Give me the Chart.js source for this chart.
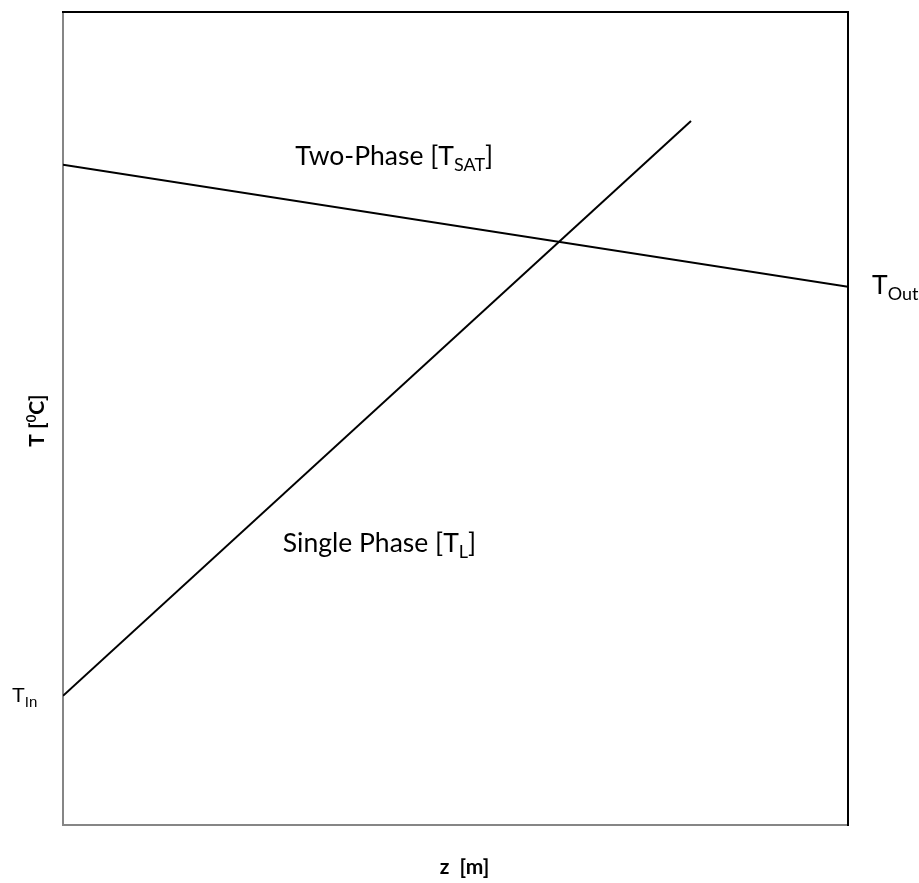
<!DOCTYPE html>
<html>
<head>
<meta charset="utf-8">
<script src="https://cdn.jsdelivr.net/npm/chart.js@4/dist/chart.umd.min.js"></script>
<style>
  html, body { margin: 0; padding: 0; background: #ffffff; }
  #wrap { width: 919px; height: 883px; position: relative; }
</style>
</head>
<body>
<div id="wrap"><canvas id="chart"></canvas></div>
<script>
// Axial position z and temperature T for the two regimes
const zTwoPhase = [0, 10];
const tTwoPhase = [81.2, 66.2];
const zSinglePhase = [0, 8.0];
const tSinglePhase = [15.9, 86.6];

// Axis ranges
const zRange = [0, 10];
const tRange = [0, 100];

// Text labels
const curveLabels = {
  twoPhase: { main: 'Two-Phase [T', sub: 'SAT', tail: ']' },
  singlePhase: { main: 'Single Phase [T', sub: 'L', tail: ']' },
  inlet: { main: 'T', sub: 'In', tail: '' },
  outlet: { main: 'T', sub: 'Out', tail: '' }
};
const axisTitles = { z: 'z  [m]', t: ['T [', '0', 'C]'] };

const toPoints = (xs, ys) => xs.map((x, i) => ({ x: x, y: ys[i] }));

// Text with a subscript segment: main + sub (lowered, smaller) + tail
function drawSubText(ctx, x, y, parts, font, subFont, subDy) {
  ctx.font = font;
  ctx.fillText(parts.main, x, y);
  let cx = x + ctx.measureText(parts.main).width;
  ctx.font = subFont;
  ctx.fillText(parts.sub, cx, y + subDy);
  cx += ctx.measureText(parts.sub).width;
  if (parts.tail) {
    ctx.font = font;
    ctx.fillText(parts.tail, cx, y);
  }
}

const labelPlugin = {
  id: 'profileLabels',
  afterDraw(chart) {
    const { ctx, chartArea: a, scales } = chart;
    const sx = scales.x, sy = scales.y;
    ctx.save();
    ctx.fillStyle = '#000000';
    ctx.textAlign = 'left';
    ctx.textBaseline = 'alphabetic';

    const bodyFont = '26.5px Lato, "Open Sans", sans-serif';
    const subFont = '18px Lato, "Open Sans", sans-serif';

    // Curve captions
    drawSubText(ctx, sx.getPixelForValue(2.96), sy.getPixelForValue(81.2),
      curveLabels.twoPhase, bodyFont, subFont, 6);
    drawSubText(ctx, sx.getPixelForValue(2.8), sy.getPixelForValue(33.6),
      curveLabels.singlePhase, bodyFont, subFont, 6);

    // Inlet temperature, left of the axis
    const yIn = sy.getPixelForValue(tSinglePhase[0]);
    drawSubText(ctx, 12, yIn + 6, curveLabels.inlet,
      '21px "Liberation Sans", Arial, sans-serif', '15px "Liberation Sans", Arial, sans-serif', 5);

    // Outlet temperature, right of the frame
    const yOut = sy.getPixelForValue(tTwoPhase[tTwoPhase.length - 1]);
    drawSubText(ctx, a.right + 24, yOut + 7, curveLabels.outlet, bodyFont, subFont, 6);

    // Axis titles
    ctx.font = 'bold 21px Lato, "Open Sans", sans-serif';
    ctx.textAlign = 'center';
    ctx.fillText(axisTitles.z, (a.left + a.right) / 2 + 9, 874);

    ctx.save();
    ctx.translate(44, (a.top + a.bottom) / 2 + 2);
    ctx.rotate(-Math.PI / 2);
    ctx.textAlign = 'left';
    const f = 'bold 21px Lato, "Open Sans", sans-serif';
    const fs = 'bold 13px Lato, "Open Sans", sans-serif';
    ctx.font = f;
    const w0 = ctx.measureText(axisTitles.t[0]).width;
    ctx.font = fs;
    const w1 = ctx.measureText(axisTitles.t[1]).width;
    ctx.font = f;
    const w2 = ctx.measureText(axisTitles.t[2]).width;
    let tx = -(w0 + w1 + w2) / 2;
    ctx.fillText(axisTitles.t[0], tx, 0);
    tx += w0;
    ctx.font = fs;
    ctx.fillText(axisTitles.t[1], tx, -8);
    tx += w1;
    ctx.font = f;
    ctx.fillText(axisTitles.t[2], tx, 0);
    ctx.restore();

    ctx.restore();
  }
};

const hiddenAxis = (position, min, max, color, width) => ({
  type: 'linear',
  position: position,
  min: min,
  max: max,
  grid: { display: false, drawTicks: false },
  border: { display: true, color: color, width: width },
  ticks: { display: false }
});

new Chart(document.getElementById('chart'), {
  type: 'scatter',
  data: {
    datasets: [
      {
        label: 'Two-Phase',
        data: toPoints(zTwoPhase, tTwoPhase),
        showLine: true,
        borderColor: '#000000',
        borderWidth: 2,
        pointRadius: 0,
        xAxisID: 'x',
        yAxisID: 'y'
      },
      {
        label: 'Single Phase',
        data: toPoints(zSinglePhase, tSinglePhase),
        showLine: true,
        borderColor: '#000000',
        borderWidth: 2,
        pointRadius: 0,
        xAxisID: 'x',
        yAxisID: 'y'
      }
    ]
  },
  options: {
    responsive: true,
    maintainAspectRatio: false,
    animation: false,
    layout: { padding: { left: 63, top: 12, right: 71, bottom: 58 } },
    plugins: { legend: { display: false }, tooltip: { enabled: false } },
    scales: {
      x: hiddenAxis('bottom', zRange[0], zRange[1], '#868686', 2),
      y: hiddenAxis('left', tRange[0], tRange[1], '#868686', 2),
      xTop: hiddenAxis('top', zRange[0], zRange[1], '#000000', 2),
      yRight: hiddenAxis('right', tRange[0], tRange[1], '#000000', 2)
    }
  },
  plugins: [labelPlugin]
});
</script>
</body>
</html>
